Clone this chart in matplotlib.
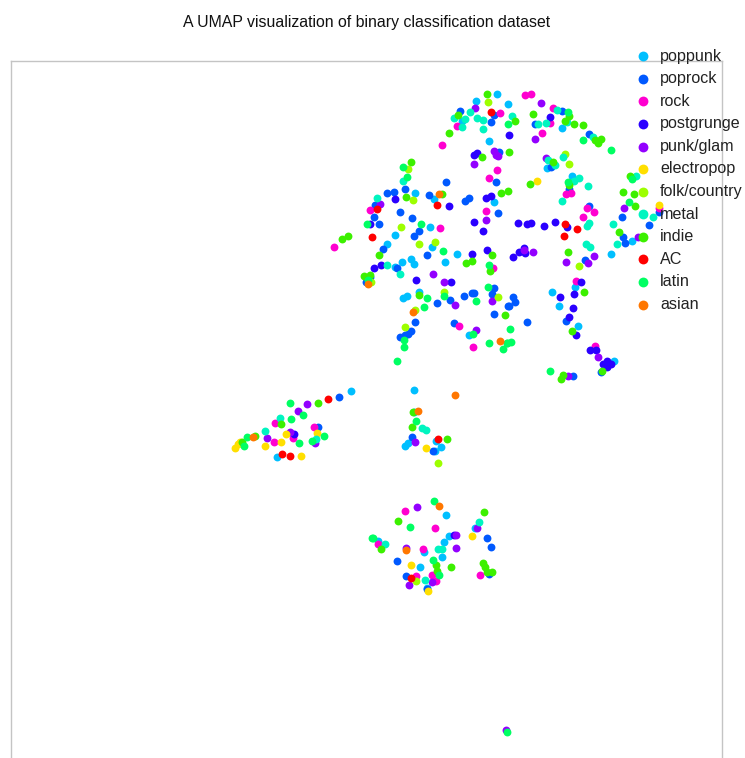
#!/usr/bin/env python3

### IMPORT
import matplotlib
matplotlib.use('Agg')
import matplotlib.pyplot as plt

### DATA
genres = ['poppunk', 'poprock', 'rock', 'postgrunge', 'punk/glam', 'electropop', 'folk/country', 'metal', 'indie', 'AC', 'latin', 'asian']
colors = ['#00bfff', '#0059ff', '#ff00d0', '#2a00ff', '#9300ff', '#ffdf00', '#9dff00', '#00f5c0', '#3cf000', '#ff0000', '#00ff62', '#ff7700']

poppunk_x = [497, 507.5, 475.7, 462, 489.3, 415, 433.7, 494, 430, 395, 431.7, 387.3, 456.7, 444.7, 401.7, 410.7, 414.3, 395, 418.7, 403.3, 406.7, 469.3, 562.3, 546.7, 572, 611, 632, 575, 551.7, 559.3, 578.3, 614.3, 351.3, 277, 413.7, 414.3, 407.7, 405.3, 436.3, 440.7, 435.3, 445.7, 475, 449.3, 444.3, 378, 424, 442.3, 419.7, 426.5]
poppunk_y = [94.3, 104, 100.7, 120.7, 141.3, 193, 198.7, 201.7, 227, 235, 247, 243.7, 254, 261.7, 261.7, 259, 264, 267, 291.7, 297.7, 296, 335.3, 128.3, 167.7, 176, 254, 240.7, 286.7, 292, 305.7, 325.7, 360.7, 390.7, 457.3, 389.7, 412.3, 443.3, 446.3, 441, 447, 451.3, 515.3, 527.7, 536.3, 542, 541.3, 552, 557, 567.3, 588]

poprock_x = [460, 494, 491.3, 499, 496, 446.3, 405, 386.7, 394, 428.7, 465, 469.3, 375.3, 399.7, 412.3, 497.7, 373.7, 379, 414.3, 419, 383.3, 427.3, 396.7, 370, 365.7, 493.7, 492, 450.3, 464.3, 471.7, 474, 437.3, 508.3, 494.3, 414.7, 453.7, 410.7, 408.3, 405.3, 399.7, 561.7, 534.7, 589.3, 550.7, 569.3, 621.7, 659.3, 649, 589.3, 623.3, 625, 585, 513, 515.3, 509.3, 526.7, 566, 600.7, 573.3, 339, 317.7, 412, 433.3, 486.7, 490.7, 397.3, 488.7, 405.7, 427.3]
poprock_y = [110.7, 115, 122, 152.3, 182, 182, 188.7, 193, 192.3, 194.7, 201, 198.3, 205.3, 212.3, 218.3, 213.3, 217.3, 223.7, 235.7, 231.3, 249.3, 254.7, 267.7, 277.3, 282.3, 288.3, 293.7, 299.7, 296, 293, 293, 303.3, 306, 313.7, 322.3, 323, 330.7, 333.7, 334.7, 337, 110.7, 123.7, 134, 166.7, 189.3, 217.3, 212.3, 225, 206, 237.3, 242.7, 260.3, 297, 301.7, 305.7, 322.3, 321.3, 372.3, 376, 396.7, 427.3, 437.3, 451.3, 538, 547.3, 561.3, 574.3, 576, 589.3]

rock_x = [457.3, 500.3, 442, 496.7, 489.3, 370.3, 485.7, 440, 334, 493.3, 459.3, 473, 525.3, 531.3, 552.7, 550, 542, 566, 570.7, 659.3, 587.3, 582.7, 594.3, 575.7, 595, 275.3, 314.3, 293, 274.3, 405.3, 435.3, 377.7, 423.3, 480, 415.7, 432.3, 436.3]
rock_y = [125.7, 112.7, 144.7, 169.7, 177.7, 209.7, 210.7, 228.3, 247, 267.7, 326, 346.7, 95.3, 93.7, 108.3, 123.3, 133.3, 194, 193.3, 208.3, 208.3, 217.3, 212.3, 280.7, 345.7, 422.7, 427.3, 438, 441.7, 511, 528.3, 544.3, 549, 574.7, 576, 575, 581.3]

postgrunge_x = [509, 474.3, 476.7, 394.7, 449.3, 486.3, 491.3, 474, 370, 483.3, 472, 487.3, 373.7, 380.7, 416.3, 450.7, 550.3, 518.3, 527.3, 531, 544, 555.3, 567.3, 513.3, 519, 523.7, 524.7, 581.3, 559.7, 574.3, 572.7, 568.7, 576, 590.3, 595.7, 606.7, 603, 607.3, 611, 294.3, 453.5]
postgrunge_y = [135, 154.7, 153.3, 199.3, 206.3, 198.3, 195.7, 221.7, 223.7, 231.3, 254, 250.3, 267.7, 265.3, 279.7, 282.3, 117, 223.3, 224.3, 222.7, 226, 221.7, 227, 257.3, 252, 247.7, 253.3, 281.7, 297, 293.7, 308, 316.7, 334.7, 350, 349.7, 360.7, 364, 366.7, 363.7, 434.3, 535.3]

punk_x = [475, 493.7, 496.3, 497.5, 473.7, 379.7, 486, 433, 444.3, 492.3, 455, 475.7, 540.7, 534.7, 545.7, 624, 638.3, 524.3, 533.3, 566.3, 588, 594.3, 598, 567.7, 307.3, 298, 290.3, 267, 314.7, 415, 417.3, 477.3, 456, 406, 456.3, 431.7, 409, 505.5]
punk_y = [107.7, 150.7, 155, 156, 164, 204.3, 220.3, 273.7, 282.3, 300.7, 305, 330, 103.3, 139, 157.7, 208, 236.7, 250, 252.3, 261.7, 262.7, 255.7, 357, 376, 403.7, 410.7, 431.7, 438.3, 442.7, 441.7, 506.7, 528.3, 535.3, 547.7, 548.3, 582.3, 584.7, 730]

electropop_x = [537, 658.7, 286.3, 316.7, 281, 265, 240, 237.7, 235.3, 301, 425.7, 471.7, 411, 428.3]
electropop_y = [181, 205, 434, 433.3, 441.7, 446, 442.3, 444.3, 448, 455.7, 448, 536.3, 564.7, 591]

folk_x = [487.7, 408, 412.7, 400.7, 419.3, 435.3, 370.7, 497.7, 444, 414.7, 405.3, 565, 569, 578.7, 437.7, 416]
folk_y = [101.7, 169, 200.3, 226.7, 243.7, 242.3, 281.7, 297, 291.7, 309.7, 326.7, 154.3, 163.7, 266, 462.7, 580.7]

metal_x = [470, 454.3, 465.3, 462.3, 476.7, 483, 482.7, 403, 377, 387, 400.3, 511.7, 557.3, 538.3, 545.7, 566.7, 593.3, 547.7, 555, 562.7, 579, 574, 588, 562, 635.7, 652.7, 613, 587.3, 589.3, 585.7, 590.3, 617.3, 280.3, 265, 315.7, 421.7, 426, 478.7, 385.3, 438, 442, 425.3]
metal_y = [111.7, 118, 118.7, 127.3, 117.7, 119.7, 129.3, 181, 198.3, 265.3, 274, 116, 110, 124.3, 123, 121.7, 136.7, 160, 164.7, 157, 177.7, 181, 186.3, 200.7, 176, 217.3, 224.3, 226, 223.3, 243.7, 246.7, 244.3, 418.3, 431.3, 439, 427.7, 430, 522.3, 544, 548.7, 549, 580.3]

indie_x = [487, 458, 449.3, 482, 411.3, 406.3, 441.7, 501, 508, 342, 348.3, 379, 492.3, 465.7, 472.3, 490.3, 363.7, 370, 419.3, 505.3, 509, 532.7, 568.7, 514.7, 564.7, 574.3, 583.3, 594.7, 600.7, 598.3, 553.3, 569, 530, 629.7, 623, 634, 635.3, 619.3, 568.3, 584, 572.3, 602.3, 561, 562.7, 318, 280.7, 255, 241.7, 413.3, 412, 447, 483.7, 397.7, 381, 435.7, 451.3, 483.3, 485, 487, 491.7, 437]
indie_y = [93.7, 114.7, 133.3, 157, 162, 196.7, 194, 193, 191.3, 239, 235.7, 254.7, 254.7, 263.3, 260.7, 270.7, 276.3, 275, 295.3, 315.3, 152.3, 114.3, 116, 120.7, 120.7, 123.7, 124.7, 140, 139.3, 143, 162, 184.7, 183.7, 176, 191.7, 194, 205.7, 231.7, 252, 292, 331, 370.7, 379, 375, 402.7, 423.7, 435.7, 442.3, 412.3, 427, 439.3, 512, 520.7, 549.3, 565, 567.3, 562.7, 567.3, 571.7, 571.7, 571]

ac_x = [490.7, 436.7, 377, 371.7, 565.3, 577.3, 564.3, 328, 282, 289.7, 438, 411]
ac_y = [112.3, 204.7, 209, 236.7, 224.3, 229, 235.7, 399.3, 454, 456.3, 439, 577.7]

latin_x = [507.7, 403, 406.7, 366.7, 420.7, 442.7, 489, 368.3, 488.3, 426.7, 444, 476.3, 424.3, 472.7, 403.7, 404, 397, 489, 507.3, 503.3, 510.3, 506.7, 511, 567.7, 582.7, 611, 568, 632, 629, 550, 289.7, 302.7, 291.3, 324.3, 312.3, 247.3, 299, 244, 415.7, 433.7, 410, 372, 373.3, 433, 439, 507]
latin_y = [123.7, 167, 177, 223.7, 223.7, 251.3, 265.3, 280, 287, 298, 296, 300.7, 306.7, 334, 339.7, 346.7, 361.3, 343, 343, 349.3, 329.3, 342.7, 342, 111.7, 139.7, 150, 181.7, 179.3, 202, 370.7, 402.7, 415, 419.3, 435.7, 440.7, 437, 442.7, 446, 421, 500.7, 526.7, 537.7, 538, 559.7, 575.3, 732]

asian_x = [439, 368, 413, 500, 253, 455.3, 418.3, 439.3, 406.3]
asian_y = [194, 284, 311.7, 340.7, 437, 395, 410.7, 506, 550]

all_x = [poppunk_x, poprock_x, rock_x, postgrunge_x, punk_x, electropop_x, folk_x, metal_x, indie_x, ac_x, latin_x, asian_x]
all_y = [poppunk_y, poprock_y, rock_y, postgrunge_y, punk_y, electropop_y, folk_y, metal_y, indie_y, ac_y, latin_y, asian_y]

### FIGURE
plt.rcParams['font.family'] = ['Liberation Sans', 'DejaVu Sans']
fig = plt.figure(figsize = (7.45, 7.58), dpi = 100)
ax = fig.add_axes([11 / 745, 0, 711 / 745, 697 / 758])

### POINTS
for g, c, x, y in zip(genres, colors, all_x, all_y):
	ax.scatter(x, y, s = 32, color = c, linewidths = 0, label = g, zorder = 2)

ax.set_xlim(11, 722)
ax.set_ylim(758, 61)
ax.set_xticks([])
ax.set_yticks([])
for side in ['left', 'right', 'top']:
	ax.spines[side].set_color('#c4c4c4')
	ax.spines[side].set_linewidth(1.0)
ax.spines['bottom'].set_visible(False)

### TITLE + LEGEND
fig.text(367 / 745, 1 - 23 / 758, 'A UMAP visualization of binary classification dataset', ha = 'center', va = 'center', fontsize = 11.4, color = '#111111')
leg = ax.legend(
	loc = 'upper left',
	bbox_to_anchor = (635 / 745, 1 - 48.5 / 758),
	bbox_transform = fig.transFigure,
	frameon = False,
	fontsize = 11.6,
	markerscale = 1.25,
	scatterpoints = 1,
	labelspacing = 0.47,
	handlelength = 1.0,
	handletextpad = 0.56,
	borderpad = 0,
	borderaxespad = 0
)
leg.set_zorder(5)
for t in leg.get_texts():
	t.set_color('#222222')

fig.savefig('out.png', dpi = 100)
